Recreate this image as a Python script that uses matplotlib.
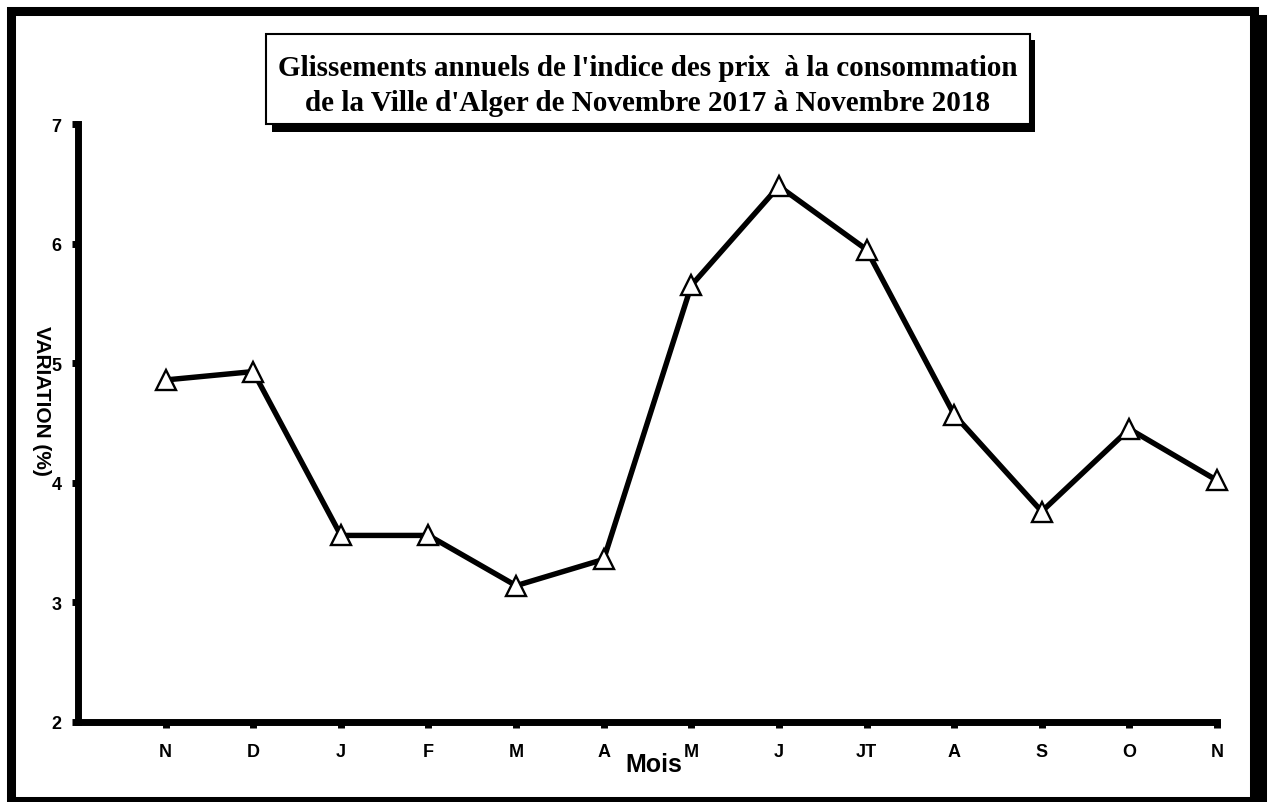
import matplotlib
matplotlib.use("Agg")
from matplotlib import pyplot as plt
from matplotlib.patches import Rectangle

# monthly values, Nov 2017 .. Nov 2018
months = ["N", "D", "J", "F", "M", "A", "M", "J", "JT", "A", "S", "O", "N"]
variation = [4.86, 4.93, 3.56, 3.56, 3.14, 3.36, 5.65, 6.48, 5.95, 4.57, 3.76, 4.45, 4.02]
y_ticks = [2, 3, 4, 5, 6, 7]

title = ("Glissements annuels de l'indice des prix  à la consommation\n"
         "de la Ville d'Alger de Novembre 2017 à Novembre 2018")

W, H = 1269, 803
fig = plt.figure(figsize=(W / 100, H / 100), dpi=100)


def px(x, y):
    return x / W, 1 - y / H


def box(x0, y0, x1, y1, **kw):
    # rectangle given in pixel coords (top-left, bottom-right)
    fx0, fy1 = px(x0, y0)
    fx1, fy0 = px(x1, y1)
    r = Rectangle((fx0, fy0), fx1 - fx0, fy1 - fy0, transform=fig.transFigure, **kw)
    fig.add_artist(r)
    return r


# outer frame with drop shadow
box(18, 20, 1262, 810, facecolor="black", edgecolor="black", linewidth=6.5, zorder=-3)
box(10.5, 11.5, 1253.5, 801.5, facecolor="white", edgecolor="black", linewidth=6.5, zorder=-2)

ax = fig.add_axes([78 / W, 1 - 723 / H, (1217 - 78) / W, (723 - 125) / H])
ax.patch.set_alpha(0)
x = list(range(1, len(months) + 1))
ax.plot(x, variation, color="black", linewidth=3.9, marker="^", markersize=14,
        markerfacecolor="white", markeredgecolor="black", markeredgewidth=1.7, zorder=3,
        clip_on=False)

ax.set_xlim(0, 13)
ax.set_ylim(2, 7)
ax.set_xticks(x)
ax.set_xticklabels(months)
ax.set_yticks(y_ticks)
for s in ["top", "right"]:
    ax.spines[s].set_visible(False)
for s in ["left", "bottom"]:
    ax.spines[s].set_linewidth(5)
    ax.spines[s].set_capstyle("projecting")
ax.tick_params(axis="both", length=4, width=5, direction="out")
ax.tick_params(axis="x", pad=11)
ax.tick_params(axis="y", pad=8)
for lab in ax.get_xticklabels() + ax.get_yticklabels():
    lab.set_fontfamily("Liberation Sans")
    lab.set_fontweight("bold")
    lab.set_fontsize(13)

fig.text(*px(41, 401), "VARIATION (%)", rotation=270, ha="center", va="center",
         fontfamily="Liberation Sans", fontweight="bold", fontsize=15)
fig.text(*px(654, 772), "Mois", ha="center", va="baseline",
         fontfamily="Liberation Sans", fontweight="bold", fontsize=18)

# title box with shadow
box(272, 41, 1035, 133, facecolor="black", edgecolor="black", linewidth=0, zorder=4)
box(266, 35, 1030, 125, facecolor="white", edgecolor="black", linewidth=1.5, zorder=5)
fig.text(*px(648, 86), title, ha="center", va="center", linespacing=1.38,
         fontfamily="Liberation Serif", fontweight="bold", fontsize=21, zorder=6)

fig.savefig("out.png", dpi=100)
